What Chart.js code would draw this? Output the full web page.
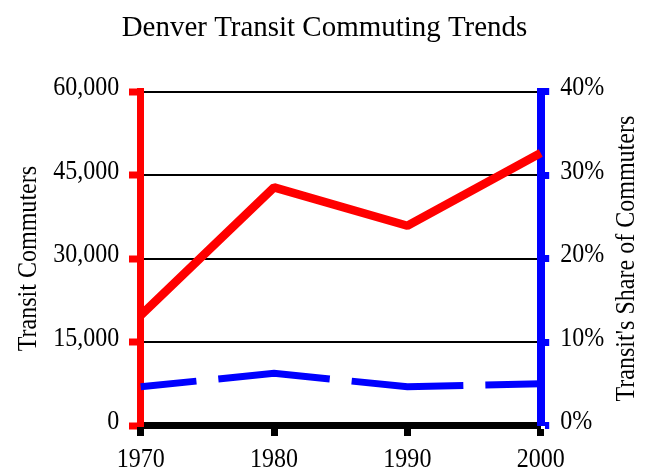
<!DOCTYPE html>
<html>
<head>
<meta charset="utf-8">
<script src="https://cdn.jsdelivr.net/npm/chart.js@4/dist/chart.umd.min.js"></script>
<style>
  html, body { margin: 0; padding: 0; background: #fff; }
  #wrap { width: 649px; height: 472px; }
</style>
</head>
<body>
<div id="wrap"><canvas id="c" width="649" height="472"></canvas></div>
<script>
const years = ['1970', '1980', '1990', '2000'];
const transitCommuters = [19800, 42800, 35900, 49000];
const transitShare = [4.65, 6.25, 4.65, 5.0];
const leftTicks = [0, 15000, 30000, 45000, 60000];
const rightTicks = [0, 10, 20, 30, 40];

const chartTitle = 'Denver Transit Commuting Trends';
const leftTitle = 'Transit Commuters';
const rightTitle = "Transit's Share of Commuters";

const FONT = '"Liberation Serif", "Times New Roman", serif';

// Slightly condense serif text horizontally (the reference uses a narrow serif face)
(function () {
  const orig = CanvasRenderingContext2D.prototype.fillText;
  CanvasRenderingContext2D.prototype.fillText = function (t, x, y, mw) {
    const m = /(\d+(?:\.\d+)?)px/.exec(this.font || '');
    const size = m ? parseFloat(m[1]) : 12;
    const s = size >= 29 ? 0.965 : 0.89;
    this.save();
    this.translate(x, y);
    this.scale(s, 1);
    if (mw === undefined) orig.call(this, t, 0, 0);
    else orig.call(this, t, 0, 0, mw / s);
    this.restore();
  };
})();

const rightTitlePlugin = {
  id: 'rightTitle',
  afterDraw(chart) {
    const ctx = chart.ctx;
    const a = chart.chartArea;
    ctx.save();
    ctx.translate(627, (a.top + a.bottom) / 2);
    ctx.rotate(-Math.PI / 2);
    ctx.font = '27px ' + FONT;
    ctx.fillStyle = '#000';
    ctx.textAlign = 'center';
    ctx.textBaseline = 'middle';
    ctx.fillText(rightTitle, 0, 0);
    ctx.restore();
  }
};

new Chart(document.getElementById('c'), {
  type: 'line',
  data: {
    labels: years,
    datasets: [
      {
        label: leftTitle,
        data: transitCommuters,
        yAxisID: 'y',
        borderColor: '#ff0000',
        backgroundColor: '#ff0000',
        borderWidth: 8.5,
        borderJoinStyle: 'bevel',
        borderCapStyle: 'butt',
        pointRadius: 0,
        pointHoverRadius: 0,
        tension: 0,
        fill: false
      },
      {
        label: rightTitle,
        data: transitShare,
        yAxisID: 'y1',
        borderColor: '#0000ff',
        backgroundColor: '#0000ff',
        borderWidth: 7,
        borderDash: [112, 22],
        borderDashOffset: 56,
        borderJoinStyle: 'miter',
        borderCapStyle: 'butt',
        pointRadius: 0,
        pointHoverRadius: 0,
        tension: 0,
        fill: false
      }
    ]
  },
  options: {
    responsive: false,
    animation: false,
    devicePixelRatio: 1,
    layout: { padding: 0 },
    plugins: {
      legend: { display: false },
      tooltip: { enabled: false },
      title: {
        display: true,
        text: chartTitle,
        color: '#000',
        font: { family: FONT, size: 30, weight: 'normal' },
        padding: { top: 10.4, bottom: 45.3 }
      }
    },
    scales: {
      x: {
        type: 'category',
        offset: false,
        grid: {
          display: true,
          drawOnChartArea: false,
          drawTicks: true,
          tickLength: 10.5,
          tickWidth: 7,
          tickColor: '#000'
        },
        border: { display: true, color: '#000', width: 7 },
        ticks: {
          color: '#000',
          font: { family: FONT, size: 27 },
          padding: 7.3,
          maxRotation: 0,
          autoSkip: false
        },
        afterFit(scale) { scale.height = 46.5; }
      },
      y: {
        type: 'linear',
        position: 'left',
        min: 0,
        max: 60000,
        afterBuildTicks(scale) { scale.ticks = leftTicks.map(v => ({ value: v })); },
        grid: {
          display: true,
          drawOnChartArea: true,
          color: '#000',
          lineWidth: 2,
          drawTicks: true,
          tickLength: 11.7,
          tickWidth: 7,
          tickColor: '#ff0000'
        },
        border: { display: true, color: '#ff0000', width: 7 },
        ticks: {
          color: '#000',
          font: { family: FONT, size: 27 },
          padding: 9.7,
          labelOffset: -3.4,
          callback: v => Number(v).toLocaleString('en-US')
        },
        title: {
          display: true,
          text: leftTitle,
          color: '#000',
          font: { family: FONT, size: 27 },
          padding: { top: 12.8, bottom: 0 }
        },
        afterFit(scale) { scale.width = 140.7; }
      },
      y1: {
        type: 'linear',
        position: 'right',
        min: 0,
        max: 40,
        afterBuildTicks(scale) { scale.ticks = rightTicks.map(v => ({ value: v })); },
        grid: {
          display: true,
          drawOnChartArea: false,
          drawTicks: true,
          tickLength: 8.5,
          tickWidth: 7,
          tickColor: '#0000ff'
        },
        border: { display: true, color: '#0000ff', width: 8 },
        ticks: {
          color: '#000',
          font: { family: FONT, size: 27 },
          padding: 11,
          labelOffset: -3.4,
          callback: v => v + '%'
        },
        afterFit(scale) { scale.width = 649 - 540.7; }
      }
    }
  },
  plugins: [rightTitlePlugin]
});
</script>
</body>
</html>
